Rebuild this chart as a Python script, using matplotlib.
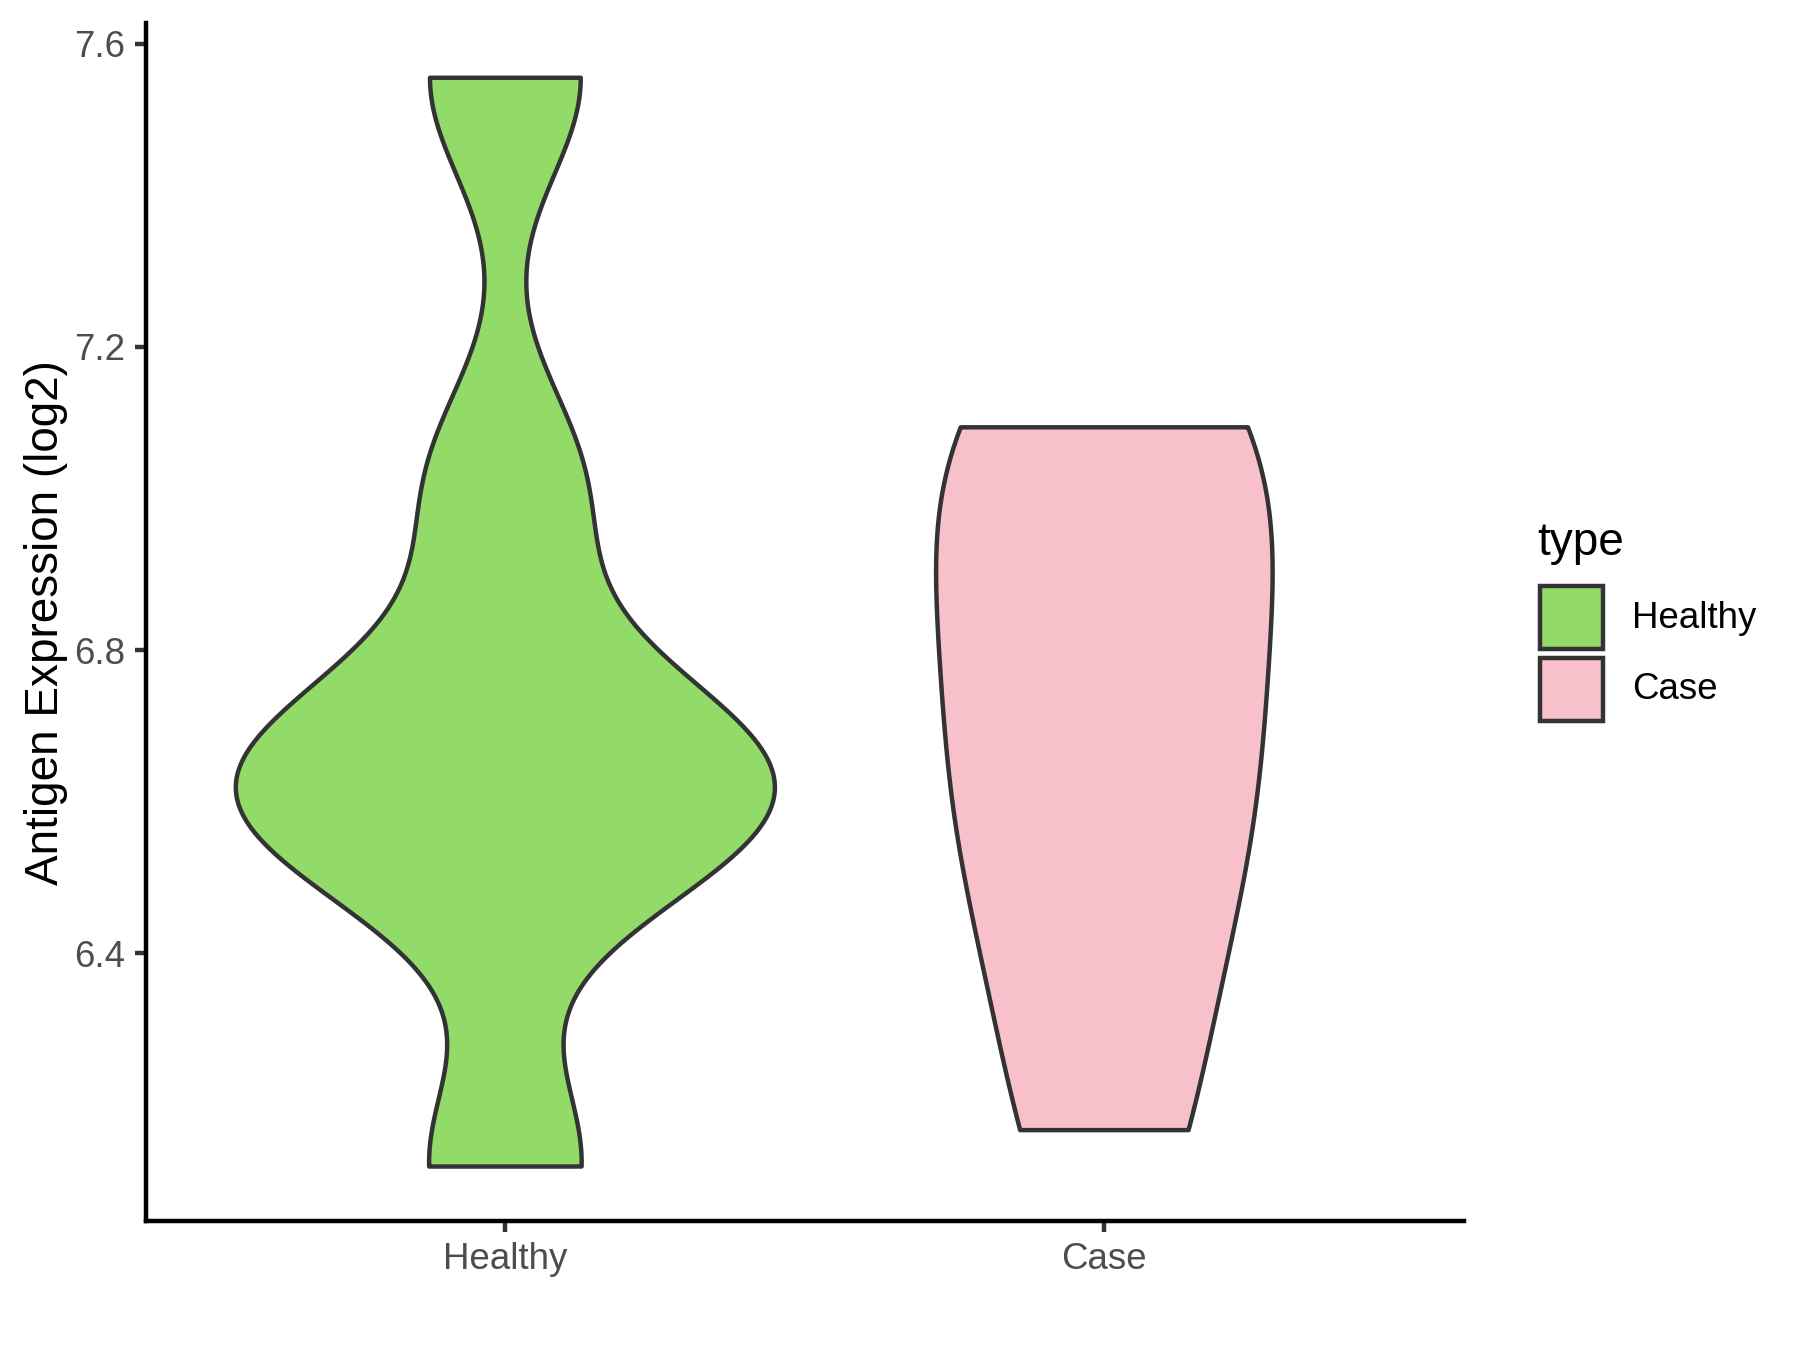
import numpy as np
import matplotlib
matplotlib.use("Agg")
import matplotlib.pyplot as plt
from matplotlib.patches import Rectangle

plt.rcParams['font.family'] = ['Liberation Sans', 'DejaVu Sans']

# expression values (log2)
healthy_vals = np.array([6.119, 6.548, 6.564, 6.657, 6.707, 7.017, 7.555])
case_vals = np.array([6.167, 6.458, 6.636, 6.815, 7.039, 7.094])
bw_healthy = 0.1354  # kernel bandwidths
bw_case = 0.2011

categories = ['Healthy', 'Case']
fill_colors = ['#93DB69', '#F7C0CB']
yticks = [6.4, 6.8, 7.2, 7.6]

LW = 1.07  # ggplot linewidth 0.5


def kde(vals, bw, grid):
    z = (grid[:, None] - vals[None, :]) / bw
    return np.exp(-0.5 * z * z).sum(1) / (len(vals) * bw * np.sqrt(2 * np.pi))


fig = plt.figure(figsize=(6, 4.5), dpi=300)
ax = fig.add_axes([0.0811, 0.0956, 0.8132 - 0.0811, 0.9827 - 0.0956])

groups = [healthy_vals, case_vals]
bws = [bw_healthy, bw_case]
grids = [np.linspace(v.min(), v.max(), 512) for v in groups]
curves = [kde(v, b, g) for v, b, g in zip(groups, bws, grids)]
dmax = max(c.max() for c in curves)  # scale = "area"

for i, (g, c, col) in enumerate(zip(grids, curves, fill_colors)):
    half = 0.45 * c / dmax
    xs = np.r_[i + 1 - half, (i + 1 + half)[::-1]]
    ys = np.r_[g, g[::-1]]
    ax.fill(xs, ys, facecolor=col, edgecolor='#333333', lw=LW, joinstyle='round')

lo = min(v.min() for v in groups)
hi = max(v.max() for v in groups)
pad = 0.05 * (hi - lo)
ax.set_xlim(0.4, 2.6)
ax.set_ylim(lo - pad, hi + pad)
ax.set_xticks([1, 2])
ax.set_xticklabels(categories)
ax.set_yticks(yticks)
ax.set_yticklabels(['%.1f' % t for t in yticks])
for s in ['top', 'right']:
    ax.spines[s].set_visible(False)
for s in ['left', 'bottom']:
    ax.spines[s].set_linewidth(LW)
    ax.spines[s].set_color('black')
ax.tick_params(length=2.75, width=LW, color='#333333', labelcolor='#4D4D4D',
               labelsize=8.8, pad=2.2)
ax.set_ylabel('Antigen Expression (log2)', fontsize=11, color='black')
ax.yaxis.set_label_coords(-0.059, 0.5)

# legend
fig.text(0.8539, 0.5889, 'type', fontsize=11, va='baseline', ha='left')
keys = [(0.5189, 0.0469), (0.4659, 0.0465)]
label_y = [0.5422, 0.4889]
for (y0, h), col, lab, ly in zip(keys, fill_colors, categories, label_y):
    fig.add_artist(Rectangle((0.8553, y0), 0.0353, h, transform=fig.transFigure,
                             facecolor=col, edgecolor='#333333', lw=LW))
    fig.text(0.9065, ly, lab, fontsize=8.8, va='center', ha='left')

fig.savefig('out.png', dpi=300)
